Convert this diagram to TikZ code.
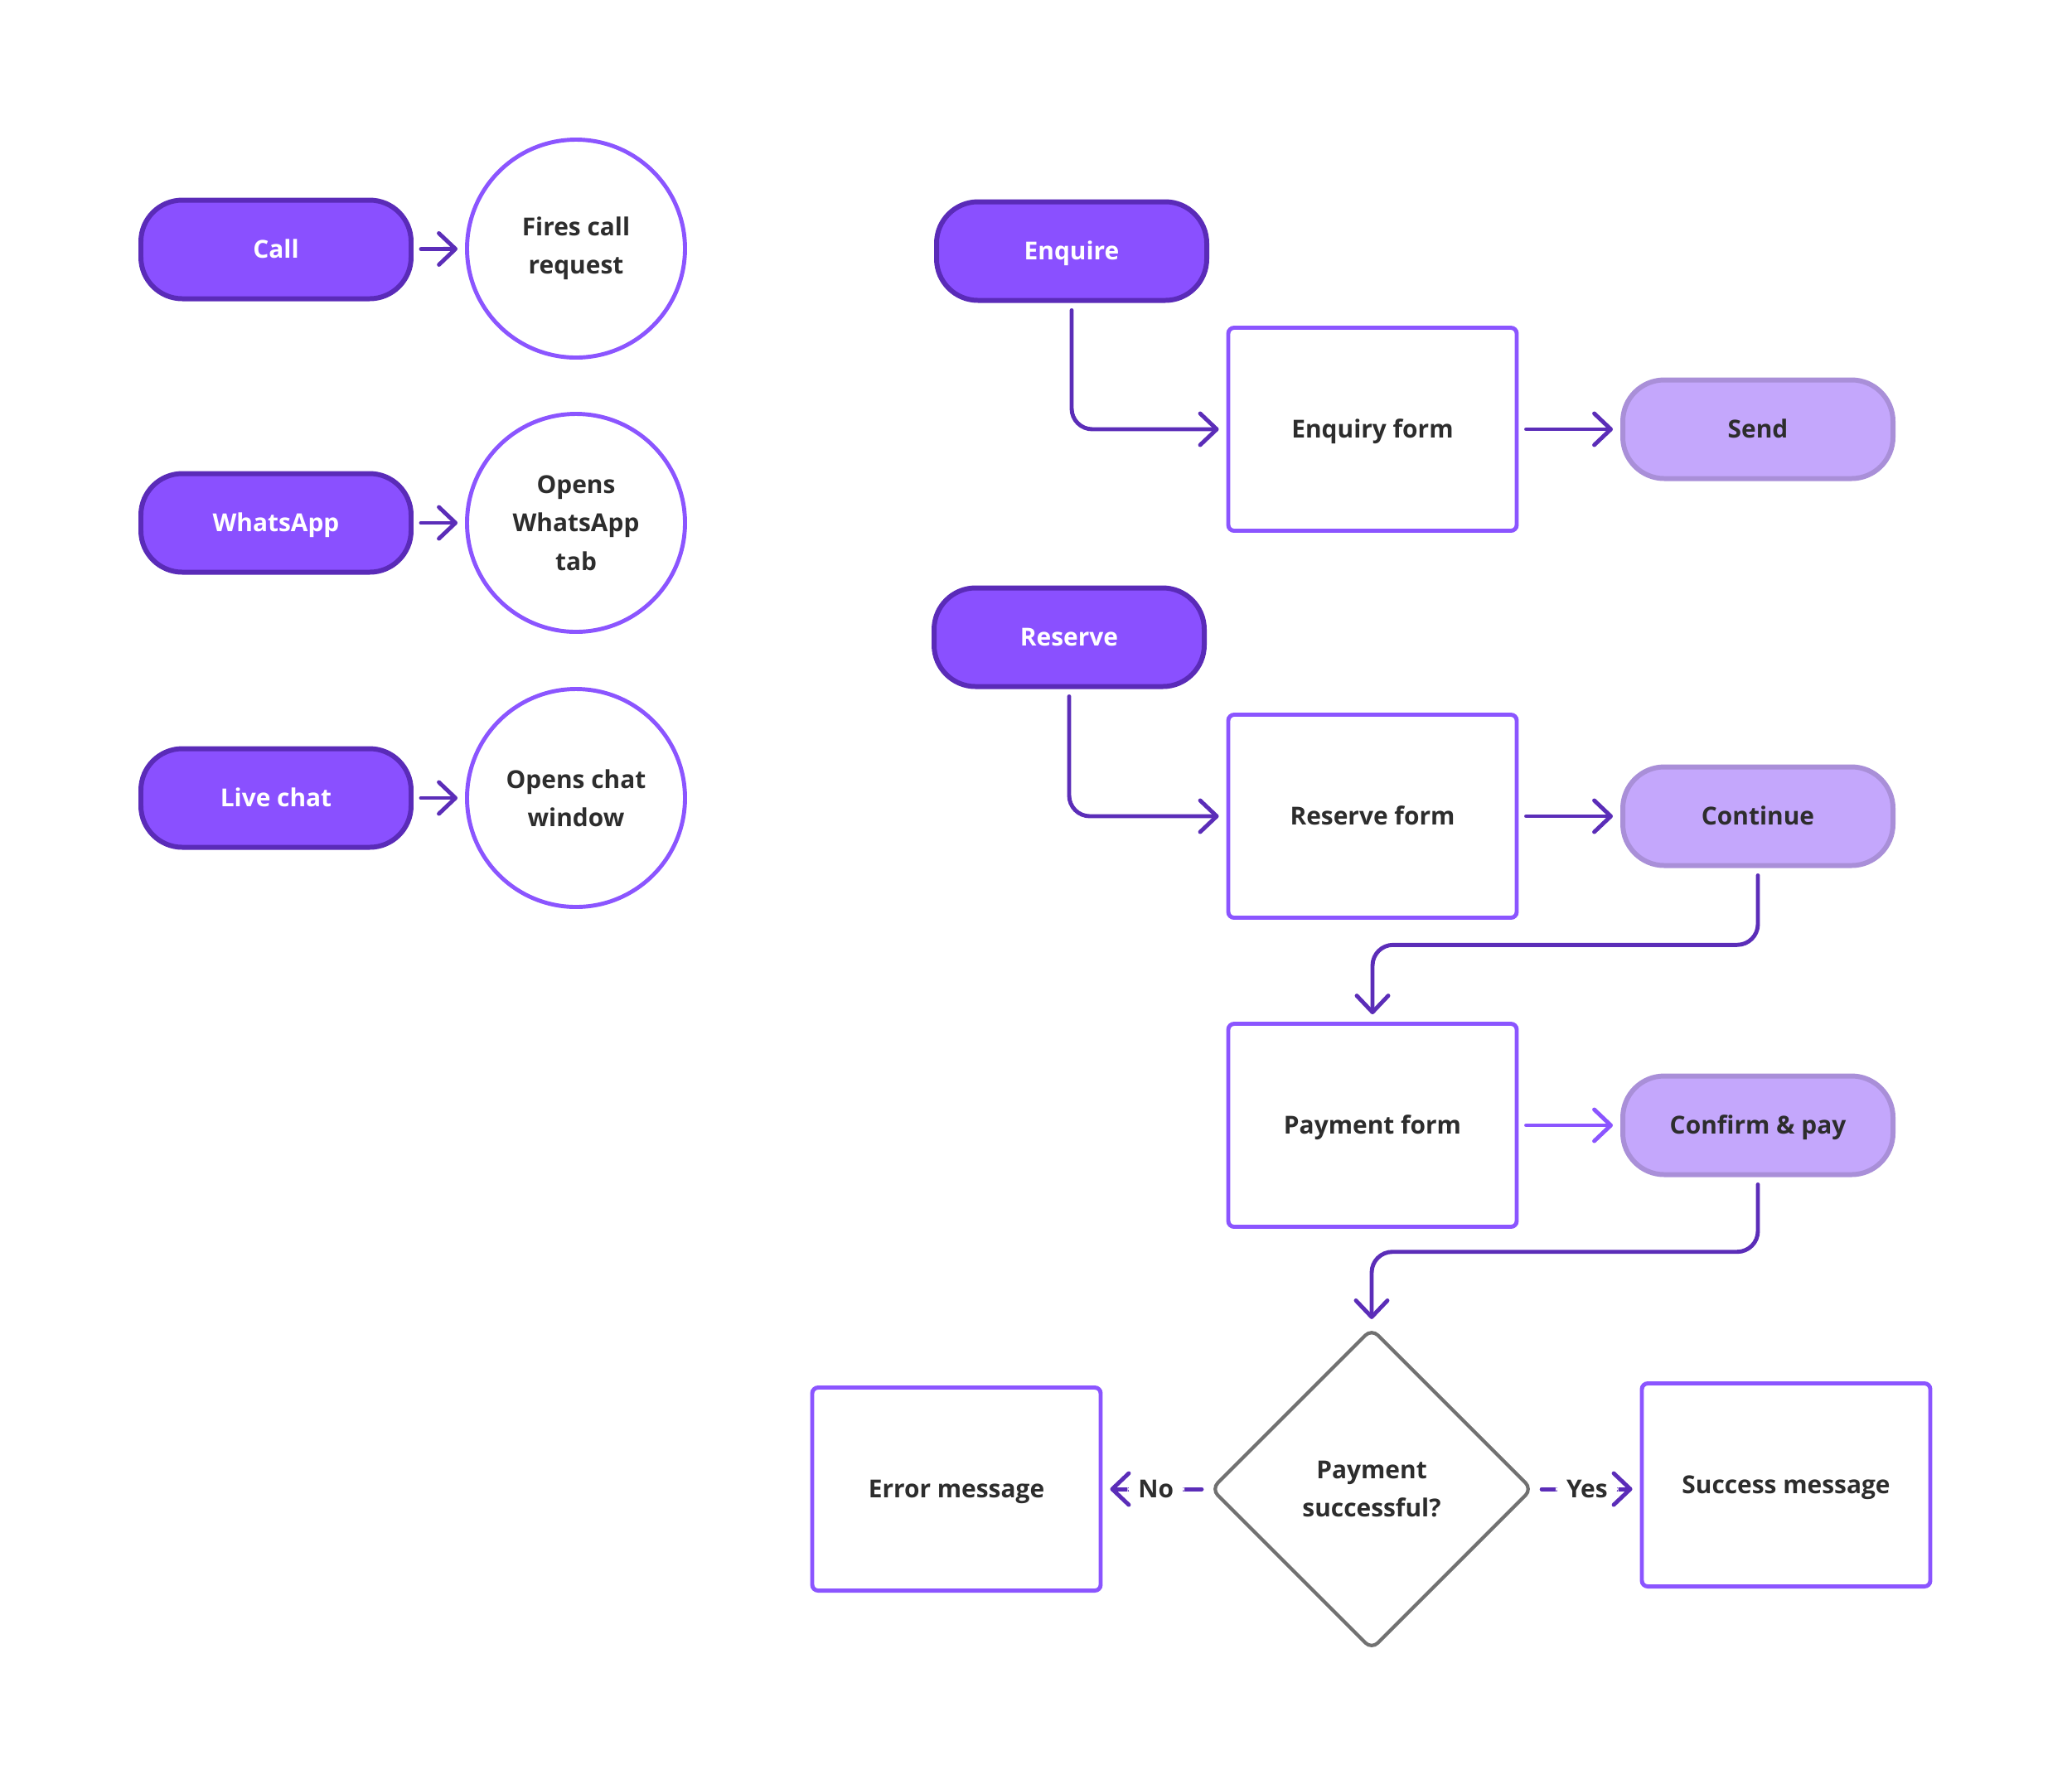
\documentclass[tikz,border=0pt]{standalone}
\usepackage{fontspec}
\setmainfont{Open Sans}
\usetikzlibrary{arrows.meta,shapes.geometric,calc}
\definecolor{pillfill}{HTML}{8A50FF}
\definecolor{pillborder}{HTML}{5A2BB8}
\definecolor{lightfill}{HTML}{C4A7FC}
\definecolor{lightborder}{HTML}{A98FD8}
\definecolor{boxborder}{HTML}{8B55FF}
\definecolor{connc}{HTML}{5B2DB8}
\definecolor{textc}{HTML}{2D2D2D}
\definecolor{diagc}{HTML}{717171}
\begin{document}
\begin{tikzpicture}[
  font=\fontsize{8.5}{13.2}\selectfont\bfseries,
  pill/.style={rectangle, rounded corners=0.5cm, draw=pillborder, fill=pillfill,
    line width=1.7pt, minimum width=3.26cm, minimum height=1.19cm, text=white, inner sep=0pt,
    text height=6.1pt, text depth=0pt},
  lightpill/.style={pill, draw=lightborder, fill=lightfill, text=textc},
  circ/.style={circle, draw=boxborder, line width=1.4pt, minimum size=2.63cm,
    align=center, text=textc, inner sep=0pt},
  formbox/.style={rectangle, rounded corners=2pt, draw=boxborder, line width=1.4pt,
    minimum width=3.48cm, minimum height=2.45cm, text=textc, inner sep=0pt,
    text height=6.1pt, text depth=0pt},
  decision/.style={diamond, aspect=1, draw=diagc, line width=1.2pt, minimum width=3.88cm,
    minimum height=3.88cm, rounded corners=3pt, align=center, text=textc, inner sep=0pt},
  conn/.style={draw=connc, line width=1.4pt, line cap=round, rounded corners=0.25cm,
    -{Straight Barb[length=0.2cm,width=0.38cm,round]}, shorten <=0.09cm, shorten >=0.09cm},
  lbl/.style={fill=white, text=textc, inner xsep=0.13cm, inner ysep=2pt}
]
\useasboundingbox (0,0) rectangle (25,-21.58);

% left column
\node[pill] (call) at (3.33,-3.01) {Call};
\node[circ] (fires) at (6.95,-3.00) {Fires call\\request};
\node[pill] (wa) at (3.33,-6.31) {WhatsApp};
\node[circ] (wacirc) at (6.95,-6.31) {Opens\\WhatsApp\\tab};
\node[pill] (live) at (3.33,-9.63) {Live chat};
\node[circ] (livecirc) at (6.95,-9.63) {Opens chat\\window};

\draw[conn] (call) -- (fires);
\draw[conn] (wa) -- (wacirc);
\draw[conn] (live) -- (livecirc);

% enquire flow
\node[pill] (enq) at (12.93,-3.03) {Enquire};
\node[formbox] (enqform) at (16.56,-5.18) {Enquiry form};
\node[lightpill] (send) at (21.21,-5.18) {Send};
\draw[conn] (enq.south) |- (enqform.west);
\draw[conn] (enqform) -- (send);

% reserve flow
\node[pill] (res) at (12.90,-7.69) {Reserve};
\node[formbox] (resform) at (16.56,-9.85) {Reserve form};
\node[lightpill] (cont) at (21.21,-9.85) {Continue};
\draw[conn] (res.south) |- (resform.west);
\draw[conn] (resform) -- (cont);

\node[formbox] (payform) at (16.56,-13.58) {Payment form};
\node[lightpill] (conf) at (21.21,-13.58) {Confirm \& pay};
\coordinate (m1) at ($(cont.south)!0.5!(payform.north)$);
\draw[conn] (cont.south) -- (cont.south |- m1) -| (payform.north);
\draw[conn, draw=boxborder] (payform) -- (conf);

\node[decision] (dec) at (16.55,-17.97) {Payment\\successful?};
\coordinate (m2) at ($(conf.south)!0.5!(dec.north)$);
\draw[conn] (conf.south) -- (conf.south |- m2) -| (dec.north);

\node[formbox] (err) at (11.54,-17.97) {Error message};
\node[formbox] (succ) at (21.55,-17.92) {Success message};
\draw[conn] (dec.west) -- node[lbl] {No} (err.east);
\draw[conn] (dec.east) -- node[lbl] {Yes} (succ.west |- dec.east);
\end{tikzpicture}
\end{document}
